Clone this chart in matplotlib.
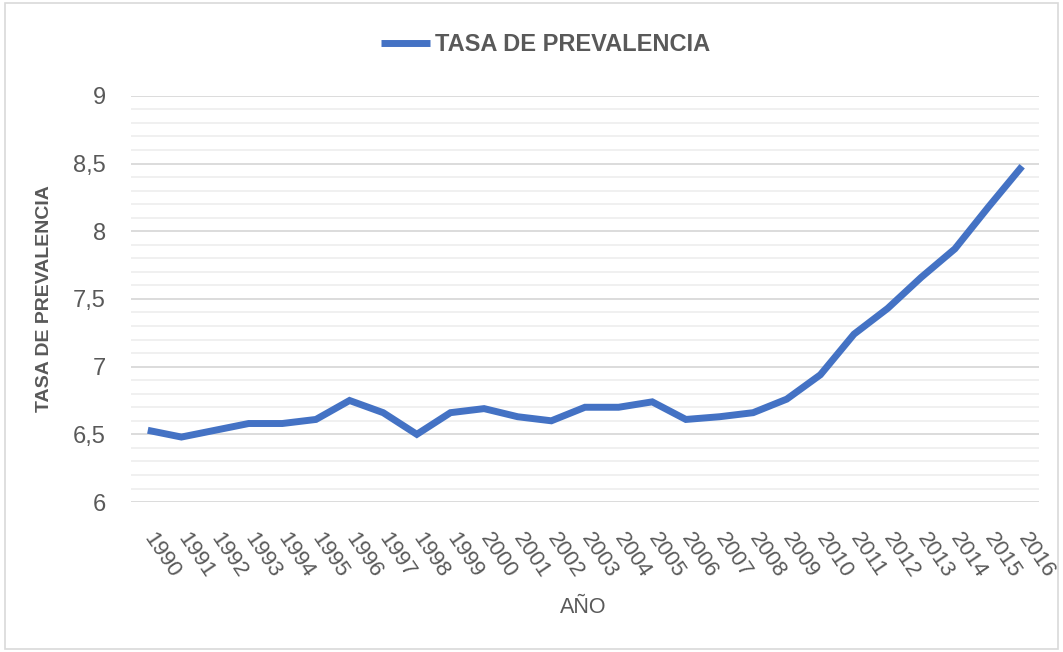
import matplotlib.pyplot as plt
import numpy as np
from matplotlib.patches import Rectangle

plt.rcParams['font.family'] = ['Liberation Sans', 'DejaVu Sans']

# Prevalence rate by year
years = ['1990', '1991', '1992', '1993', '1994', '1995', '1996', '1997', '1998',
         '1999', '2000', '2001', '2002', '2003', '2004', '2005', '2006', '2007',
         '2008', '2009', '2010', '2011', '2012', '2013', '2014', '2015', '2016']
tasa = [6.53, 6.48, 6.53, 6.58, 6.58, 6.61, 6.75, 6.66, 6.50,
        6.66, 6.69, 6.63, 6.60, 6.70, 6.70, 6.74, 6.61, 6.63,
        6.66, 6.76, 6.94, 7.24, 7.43, 7.66, 7.87, 8.18, 8.48]
y_ticks = [6, 6.5, 7, 7.5, 8, 8.5, 9]
y_tick_labels = ['6', '6,5', '7', '7,5', '8', '8,5', '9']

text_gray = '#595959'
line_blue = '#4472C4'

fig = plt.figure(figsize=(10.63, 6.52), dpi=100)
ax = fig.add_axes([0.1232, 0.230, 0.8542, 0.623])

x = np.arange(len(years))
ax.plot(x, tasa, color=line_blue, linewidth=5.0, solid_capstyle='butt',
        solid_joinstyle='miter', label='TASA DE PREVALENCIA', zorder=3)

ax.set_xlim(-0.5, len(years) - 0.5)
ax.set_ylim(6, 9)

# gridlines: major every 0.5, minor every 0.1
ax.set_yticks(y_ticks)
ax.set_yticklabels(y_tick_labels)
ax.set_yticks(np.arange(6, 9.001, 0.1), minor=True)
ax.grid(True, which='major', axis='y', color='#D9D9D9', linewidth=1.3)
ax.grid(True, which='minor', axis='y', color='#EFEFEF', linewidth=1.3)
ax.tick_params(axis='y', which='both', length=0, pad=18, labelsize=17,
               labelcolor=text_gray)

ax.set_xticks(x)
ax.set_xticklabels(years, rotation=-56, ha='left', va='center',
                   rotation_mode='anchor', fontsize=16, color=text_gray)
ax.tick_params(axis='x', length=0, pad=24)

for s in ax.spines.values():
    s.set_visible(False)

ax.set_ylabel('TASA DE PREVALENCIA', fontsize=14, fontweight='bold', color=text_gray)
ax.yaxis.set_label_coords(-0.086, 0.5)
ax.set_xlabel('AÑO', fontsize=15.5, color=text_gray)
ax.xaxis.set_label_coords(0.498, -0.235)

fig.legend(loc='center', bbox_to_anchor=(0.513, 0.931), frameon=False,
           handlelength=2.1, handletextpad=0.2, prop={'size': 17, 'weight': 'bold'},
           labelcolor=text_gray)

# thin frame around the whole chart
fig.patches.append(Rectangle((0.005, 0.005), 0.99, 0.99, transform=fig.transFigure,
                             fill=False, edgecolor='#D9D9D9', linewidth=1.2))

fig.savefig('out.png', dpi=100)
